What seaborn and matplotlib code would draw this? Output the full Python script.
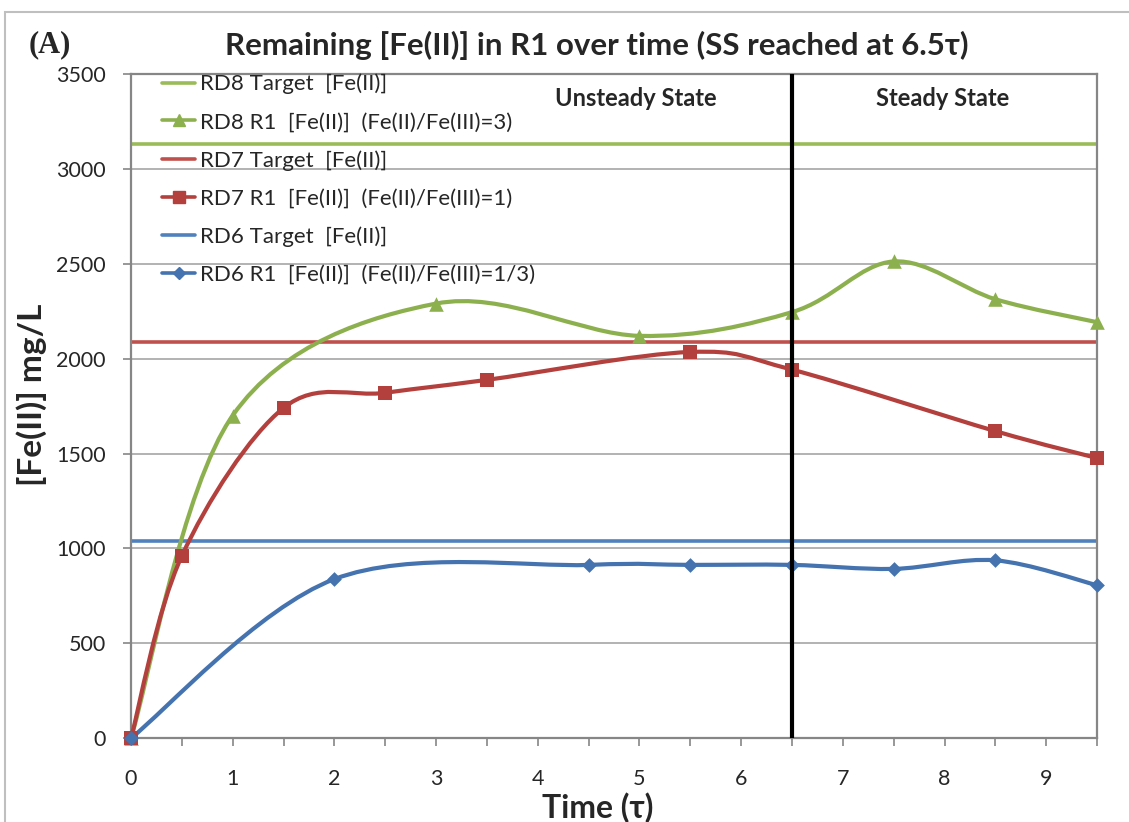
import numpy as np
import pandas as pd
import matplotlib
matplotlib.use("Agg")
import matplotlib.pyplot as plt
from matplotlib.path import Path
from matplotlib.patches import PathPatch, Rectangle
from matplotlib.lines import Line2D
import seaborn as sns

# ---------------- data ----------------
rd8_t = [0, 1, 3, 5, 6.5, 7.5, 8.5, 9.5]
rd8_fe = [0, 1700, 2290, 2120, 2245, 2512, 2313, 2192]
rd7_t = [0, 0.5, 1.5, 2.5, 3.5, 5.5, 6.5, 8.5, 9.5]
rd7_fe = [0, 960, 1740, 1820, 1888, 2035, 1942, 1618, 1476]
rd6_t = [0, 2, 4.5, 5.5, 6.5, 7.5, 8.5, 9.5]
rd6_fe = [0, 838, 913, 913, 913, 892, 937, 806]
target_rd8 = 3130
target_rd7 = 2088
target_rd6 = 1038
ss_time = 6.5
x_ticks = [0, 1, 2, 3, 4, 5, 6, 7, 8, 9]
y_ticks = [0, 500, 1000, 1500, 2000, 2500, 3000, 3500]
labels = [
    "RD8 Target  [Fe(II)]",
    "RD8 R1  [Fe(II)]  (Fe(II)/Fe(III)=3)",
    "RD7 Target  [Fe(II)]",
    "RD7 R1  [Fe(II)]  (Fe(II)/Fe(III)=1)",
    "RD6 Target  [Fe(II)]",
    "RD6 R1  [Fe(II)]  (Fe(II)/Fe(III)=1/3)",
]

sns.set_theme(style="white")
plt.rcParams['font.family'] = ['Lato', 'DejaVu Sans']

GREEN, GREEN_M = "#9BBB59", "#8DB04F"
RED, RED_M = "#C0504D", "#B3403D"
BLUE, BLUE_M = "#4F81BD", "#4473B0"


def smooth_path(xs, ys):
    """Excel-style smoothed line: cubic Bezier segments (Catmull-Rom tangents)."""
    P = np.column_stack([xs, ys]).astype(float)
    n = len(P)
    verts = [tuple(P[0])]
    codes = [Path.MOVETO]
    for i in range(n - 1):
        p0 = P[i - 1] if i > 0 else P[i]
        p1, p2 = P[i], P[i + 1]
        p3 = P[i + 2] if i + 2 < n else P[i + 1]
        c1 = p1 + (p2 - p0) / 6.0
        c2 = p2 - (p3 - p1) / 6.0
        verts += [tuple(c1), tuple(c2), tuple(p2)]
        codes += [Path.CURVE4] * 3
    return Path(verts, codes)


fig = plt.figure(figsize=(11.29, 8.22), dpi=100)
ax = fig.add_axes([0.116, 0.102, 0.8557, 0.808])

# gridlines
for y in y_ticks:
    ax.axhline(y, color="#A6A6A6", lw=1.2, zorder=0)

# target lines
ax.axhline(target_rd8, color=GREEN, lw=2.6, zorder=2)
ax.axhline(target_rd7, color=RED, lw=2.6, zorder=2)
ax.axhline(target_rd6, color=BLUE, lw=2.6, zorder=2)

series = [
    (rd8_t, rd8_fe, GREEN_M, "^", 10.5),
    (rd7_t, rd7_fe, RED_M, "s", 9.5),
    (rd6_t, rd6_fe, BLUE_M, "D", 7.5),
]
for t, fe, col, mk, ms in series:
    ax.add_patch(PathPatch(smooth_path(t, fe), fill=False, edgecolor=col,
                           lw=3.0, zorder=3, capstyle="round", clip_on=False))
    df = pd.DataFrame({"t": t, "fe": fe})
    sns.scatterplot(data=df, x="t", y="fe", marker=mk, s=ms ** 2, color=col,
                    edgecolor=col, linewidth=0, ax=ax, zorder=4, legend=False,
                    clip_on=False)

# steady-state line
ax.axvline(ss_time, color="black", lw=3, zorder=5)

ax.set_xlim(0, 9.5)
ax.set_ylim(0, 3500)
ax.set_xticks(x_ticks)
ax.set_xticks(np.arange(0, 9.51, 0.5), minor=True)
ax.set_yticks(y_ticks)
ax.tick_params(axis="x", which="both", direction="out", length=6, width=1.2,
               color="#868686", bottom=True, labelsize=15.5, pad=16)
ax.tick_params(axis="y", which="major", direction="out", length=6, width=1.2,
               color="#868686", left=True, labelsize=15.5, pad=12)
for s in ax.spines.values():
    s.set_color("#868686")
    s.set_linewidth(1.6)
ax.set_xlabel("Time (τ)", fontsize=23, fontweight="bold")
ax.set_ylabel("[Fe(II)] mg/L", fontsize=24, fontweight="bold")
ax.xaxis.set_label_coords(0.483, -0.082)
ax.yaxis.set_label_coords(-0.087, 0.517)

ax.text(4.96, 3370, "Unsteady State", ha="center", va="center",
        fontsize=17, fontweight="bold")
ax.text(7.98, 3370, "Steady State", ha="center", va="center",
        fontsize=17, fontweight="bold")

handles = [
    Line2D([], [], color=GREEN, lw=2.6),
    Line2D([], [], color=GREEN_M, lw=2.6, marker="^", ms=9),
    Line2D([], [], color=RED, lw=2.6),
    Line2D([], [], color=RED_M, lw=2.6, marker="s", ms=8.5),
    Line2D([], [], color=BLUE, lw=2.6),
    Line2D([], [], color=BLUE_M, lw=2.6, marker="D", ms=6.5),
]
ax.legend(handles, labels, loc="upper left", bbox_to_anchor=(0.023, 1.0136),
          frameon=False, fontsize=16, handlelength=1.5, handletextpad=0.2,
          labelspacing=0.8, borderaxespad=0)

fig.text(0.529, 0.945, "Remaining [Fe(II)] in R1 over time (SS reached at 6.5τ)",
         ha="center", va="center", fontsize=22.5, fontweight="bold")
fig.text(0.025, 0.945, "(A)", fontsize=22, fontweight="bold", va="center",
         family=["Liberation Serif", "DejaVu Serif"])

# outer chart frame
fig.add_artist(Rectangle((0.004, -0.01), 1.1, 0.995, transform=fig.transFigure,
                         fill=False, edgecolor="#BFBFBF", lw=1.5))

fig.savefig("out.png", dpi=100)
